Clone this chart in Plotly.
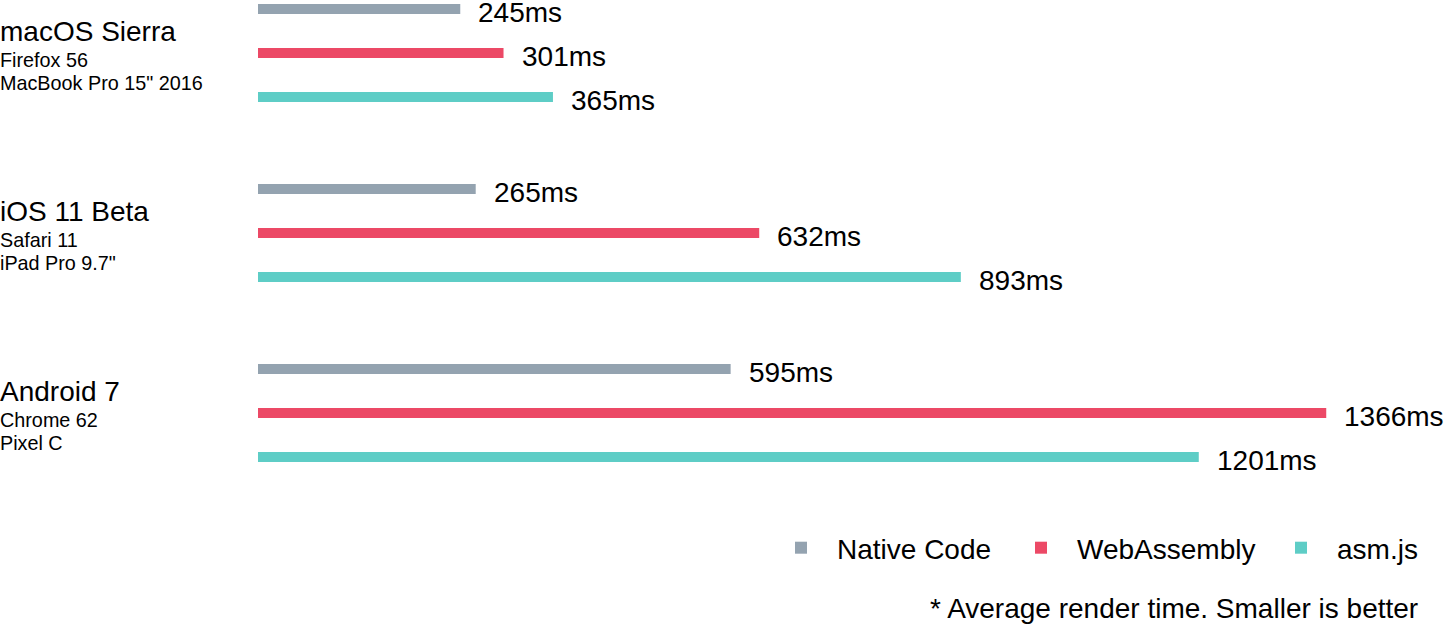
import plotly.graph_objects as go

platforms = ["macOS Sierra", "iOS 11 Beta", "Android 7"]
browsers = ["Firefox 56", "Safari 11", "Chrome 62"]
devices = ['MacBook Pro 15" 2016', 'iPad Pro 9.7"', "Pixel C"]

series = ["Native Code", "WebAssembly", "asm.js"]
colors = ["#94a3b0", "#ec4966", "#5ecdc6"]
native_ms = [245, 265, 595]
wasm_ms = [301, 632, 1366]
asmjs_ms = [365, 893, 1201]
footnote = "* Average render time. Smaller is better"

W, H = 1454, 624
X0 = 271            # pixel where 0 ms sits
PX_PER_MS = 0.7725
BAR_BASE = -13 / PX_PER_MS   # bars start a little left of zero, like the original
GROUP_STEP = 180    # px between platform groups
BAR_STEP = 44       # px between bars inside a group
LEGEND_TEXT_X = [837, 1077, 1337]  # px where each legend label starts
FONT = "Liberation Sans, Helvetica, Arial, sans-serif"

fig = go.Figure()
annotations = []
legend_ids = ["legend", "legend2", "legend3"]

for i, (name, vals) in enumerate(zip(series, [native_ms, wasm_ms, asmjs_ms])):
    ys = [9 + GROUP_STEP * g + BAR_STEP * i for g in range(len(platforms))]
    fig.add_trace(go.Bar(
        x=[v - BAR_BASE for v in vals], base=BAR_BASE, y=ys, orientation="h", width=10,
        marker=dict(color=colors[i], line=dict(width=0)),
        name=name, customdata=vals, hovertemplate="%{customdata}ms<extra>" + name + "</extra>",
        legend=legend_ids[i]
    ))
    for v, y in zip(vals, ys):
        annotations.append(dict(
            x=v, y=y, xref="x", yref="y", text=f"{v}ms", showarrow=False,
            xanchor="left", yanchor="middle", xshift=16, yshift=-3,
            font=dict(size=28, color="#000")
        ))

for g, (p, b, d) in enumerate(zip(platforms, browsers, devices)):
    top = 31 + GROUP_STEP * g
    annotations.append(dict(x=0, y=top, xref="paper", yref="y", text=p, showarrow=False,
                            xanchor="left", yanchor="middle", xshift=-2, font=dict(size=28, color="#000")))
    annotations.append(dict(x=0, y=top + 29, xref="paper", yref="y", text=b, showarrow=False,
                            xanchor="left", yanchor="middle", xshift=-2, font=dict(size=19.8, color="#000")))
    annotations.append(dict(x=0, y=top + 52, xref="paper", yref="y", text=d, showarrow=False,
                            xanchor="left", yanchor="middle", xshift=-2, font=dict(size=19.8, color="#000")))

annotations.append(dict(x=1420 / W, y=1 - 608 / H, xref="paper", yref="paper", text=footnote,
                        showarrow=False, xanchor="right", yanchor="middle",
                        font=dict(size=28, color="#000")))

legend_style = dict(
    orientation="h", xanchor="left", y=1 - 548 / H, yanchor="middle",
    font=dict(size=28), itemclick=False, itemdoubleclick=False,
    bgcolor="rgba(0,0,0,0)", itemwidth=62
)

fig.update_layout(
    width=W, height=H,
    margin=dict(l=0, r=0, t=0, b=0),
    paper_bgcolor="white", plot_bgcolor="white",
    font=dict(family=FONT, color="#000"),
    barmode="overlay",
    annotations=annotations,
    showlegend=True,
    legend=dict(legend_style, x=(LEGEND_TEXT_X[0] - 72) / W),
    legend2=dict(legend_style, x=(LEGEND_TEXT_X[1] - 72) / W),
    legend3=dict(legend_style, x=(LEGEND_TEXT_X[2] - 72) / W),
)
fig.update_xaxes(range=[-X0 / PX_PER_MS, (W - X0) / PX_PER_MS], visible=False, fixedrange=True)
fig.update_yaxes(range=[H, 0], visible=False, fixedrange=True)

# drop the browser's default body margin so the figure sits at the page corner
fig.write_html("out.html", config={"displayModeBar": False},
               post_script="document.body.style.margin='0';")
